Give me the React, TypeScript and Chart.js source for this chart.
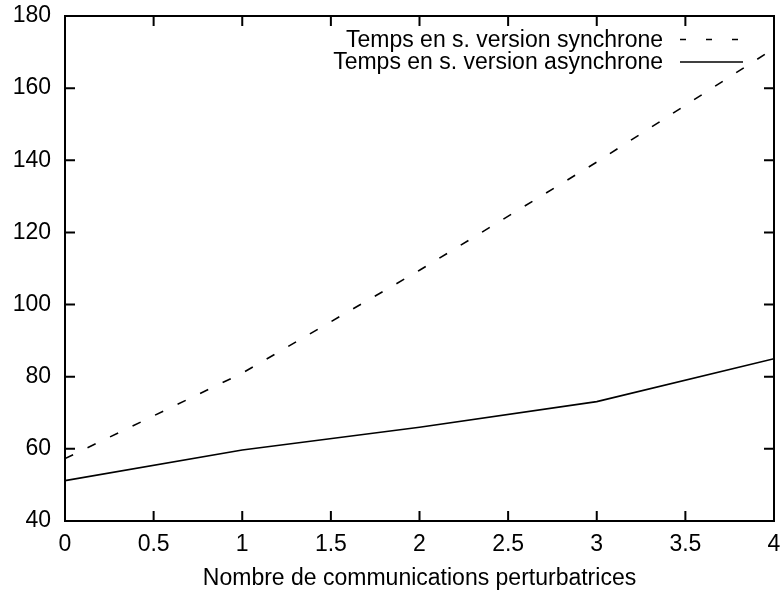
import React, { useEffect, useRef } from "react";
import { Chart, registerables } from "chart.js";

Chart.register(...registerables);

const xValues = [0, 1, 2, 3, 4];
const syncTimes = [57.3, 81, 109.5, 139.5, 171];
const asyncTimes = [51.2, 59.7, 66, 73.1, 85];
const seriesLabels = ["Temps en s. version synchrone", "Temps en s. version asynchrone"];
const xTitle = "Nombre de communications perturbatrices";
const xRange = [0, 4];
const xStep = 0.5;
const yRange = [40, 180];
const yStep = 20;

const FONT = '"Liberation Sans", Arial, Helvetica, sans-serif';
const FONT_SIZE = 23;
const SYNC_DASH = [9, 16];

const framePlugin = {
  id: "gnuplotFrame",
  afterDatasetsDraw(chart: any) {
    const { ctx, chartArea, scales } = chart;
    const { left, right, top, bottom } = chartArea;
    ctx.save();
    ctx.strokeStyle = "#000";
    ctx.lineWidth = 2;
    ctx.setLineDash([]);
    ctx.strokeRect(left, top, right - left, bottom - top);
    const tl = 10;
    ctx.beginPath();
    for (const t of scales.x.ticks) {
      const px = scales.x.getPixelForValue(t.value);
      ctx.moveTo(px, bottom);
      ctx.lineTo(px, bottom - tl);
      ctx.moveTo(px, top);
      ctx.lineTo(px, top + tl);
    }
    for (const t of scales.y.ticks) {
      const py = scales.y.getPixelForValue(t.value);
      ctx.moveTo(left, py);
      ctx.lineTo(left + tl, py);
      ctx.moveTo(right, py);
      ctx.lineTo(right - tl, py);
    }
    ctx.stroke();

    // legend (gnuplot style key, top right, inside)
    ctx.font = `${FONT_SIZE}px ${FONT}`;
    ctx.fillStyle = "#000";
    ctx.textAlign = "right";
    ctx.textBaseline = "alphabetic";
    const textRight = right - 111;
    const sampleL = right - 94;
    const sampleEnds = [right - 36, right - 31];
    const baselines = [top + 30.5, top + 53];
    const dashes = [[6, 20], []];
    seriesLabels.forEach((lab, i) => {
      ctx.fillText(lab, textRight, baselines[i]);
      ctx.beginPath();
      ctx.lineWidth = 1.6;
      ctx.setLineDash(dashes[i]);
      ctx.moveTo(sampleL, baselines[i] - 7);
      ctx.lineTo(sampleEnds[i], baselines[i] - 7);
      ctx.stroke();
    });
    ctx.restore();
  },
};

export default function App() {
  const ref = useRef<HTMLCanvasElement | null>(null);
  useEffect(() => {
    if (!ref.current) return;
    const chart = new Chart(ref.current, {
      type: "line",
      data: {
        datasets: [
          {
            label: seriesLabels[0],
            data: xValues.map((x, i) => ({ x, y: syncTimes[i] })),
            borderColor: "#000",
            borderWidth: 1.6,
            borderDash: SYNC_DASH,
            pointRadius: 0,
            tension: 0,
            fill: false,
          },
          {
            label: seriesLabels[1],
            data: xValues.map((x, i) => ({ x, y: asyncTimes[i] })),
            borderColor: "#000",
            borderWidth: 1.6,
            pointRadius: 0,
            tension: 0,
            fill: false,
          },
        ],
      },
      options: {
        responsive: false,
        animation: false,
        layout: { padding: { top: 16, right: 10, left: 0, bottom: 0 } },
        plugins: {
          legend: { display: false },
          tooltip: { enabled: false },
          title: { display: false },
        },
        scales: {
          x: {
            type: "linear",
            min: xRange[0],
            max: xRange[1],
            grid: { display: false, drawTicks: false },
            border: { display: false },
            ticks: {
              stepSize: xStep,
              color: "#000",
              padding: 10,
              maxRotation: 0,
              font: { family: FONT, size: FONT_SIZE },
              callback: (v: any) => `${Number(v)}`,
            },
            title: {
              display: true,
              text: xTitle,
              color: "#000",
              font: { family: FONT, size: FONT_SIZE },
              padding: { top: 0, bottom: 1 },
            },
            afterFit: (s: any) => {
              s.height = 72;
              s.paddingLeft = 0;
              s.paddingRight = 0;
            },
          },
          y: {
            type: "linear",
            min: yRange[0],
            max: yRange[1],
            grid: { display: false, drawTicks: false },
            border: { display: false },
            ticks: {
              stepSize: yStep,
              color: "#000",
              padding: 14,
              font: { family: FONT, size: FONT_SIZE },
            },
            afterFit: (s: any) => {
              s.width = 65;
              s.paddingTop = 0;
              s.paddingBottom = 0;
            },
          },
        },
      },
      plugins: [framePlugin],
    });
    return () => chart.destroy();
  }, []);
  return (
    <canvas
      ref={ref}
      width={784}
      height={593}
      style={{ position: "absolute", left: 0, top: 0, display: "block", background: "#fff" }}
    />
  );
}
